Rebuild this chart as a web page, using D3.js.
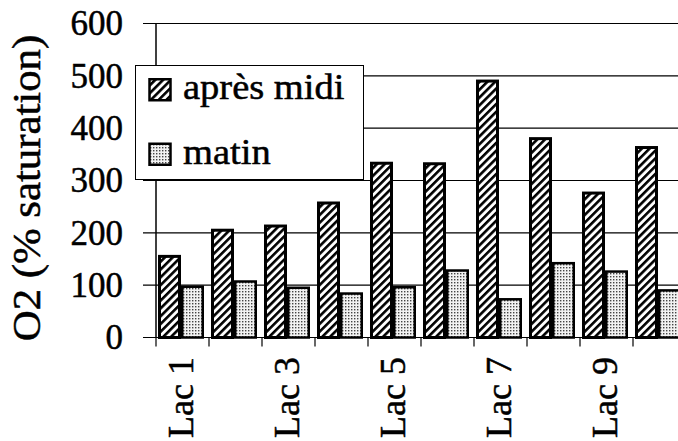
<!DOCTYPE html>
<html>
<head>
<meta charset="utf-8">
<style>
  body { margin: 0; background: #fff; }
  svg { display: block; }
</style>
</head>
<body>
<div id="chart"></div>
<script src="https://cdn.jsdelivr.net/npm/d3@7"></script>
<script>
// data
const lakes = ["Lac 1", "Lac 2", "Lac 3", "Lac 4", "Lac 5", "Lac 6", "Lac 7", "Lac 8", "Lac 9", "Lac 10"]
const apresMidi = [155, 205, 213, 257, 333, 332, 490, 380, 276, 363]
const matin = [97, 107, 95, 84, 96, 128, 73, 142, 126, 90]
const series = ["après midi", "matin"]
const yTicks = [0, 100, 200, 300, 400, 500, 600]

const W = 678, H = 441
const FONT = "'Liberation Serif', 'Times New Roman', Tinos"

const svg = d3.select("#chart").append("svg")
  .attr("width", W)
  .attr("height", H)
  .style("font-family", FONT)

// patterns
const defs = svg.append("defs")
const hatch = defs.append("pattern")
  .attr("id", "hatch")
  .attr("patternUnits", "userSpaceOnUse")
  .attr("width", 5.5).attr("height", 5.5)
  .attr("patternTransform", "rotate(45)")
hatch.append("rect").attr("width", 5.5).attr("height", 5.5).attr("fill", "#fff")
hatch.append("rect").attr("width", 2.6).attr("height", 5.5).attr("fill", "#000")

const dots = defs.append("pattern")
  .attr("id", "dots")
  .attr("patternUnits", "userSpaceOnUse")
  .attr("width", 3).attr("height", 3)
dots.append("rect").attr("width", 3).attr("height", 3).attr("fill", "#f2f2f2")
dots.append("rect").attr("width", 1.4).attr("height", 1.4).attr("fill", "#444")

const fills = { "après midi": "url(#hatch)", "matin": "url(#dots)" }
const strokeW = { "après midi": 3, "matin": 2.5 }

// scales
const x = d3.scaleBand()
  .domain(lakes)
  .range([156, 686])

const x1 = d3.scaleBand()
  .domain(series)
  .range([2, 48])

const y = d3.scaleLinear()
  .domain([0, 600])
  .range([337.5, 23.5])

// text helper: slightly heavier glyphs, like the scan
function serifText(sel, size) {
  sel.attr("font-size", size)
    .style("font-family", FONT)
    .attr("fill", "#000")
    .attr("stroke", "#000")
    .attr("stroke-width", 0.5)
}

// gridlines + y ticks
svg.append("g")
  .selectAll("line")
  .data(yTicks)
  .join("line")
  .attr("x1", 143)
  .attr("x2", W)
  .attr("y1", d => y(d))
  .attr("y2", d => y(d))
  .attr("stroke", "#000")
  .attr("stroke-width", 1.2)

svg.append("g")
  .selectAll("text")
  .data(yTicks)
  .join("text")
  .attr("x", 123)
  .attr("y", d => y(d))
  .attr("text-anchor", "end")
  .attr("dy", "0.34em")
  .call(serifText, 35)
  .text(d => d)

// y axis line
svg.append("line")
  .attr("x1", 156).attr("x2", 156)
  .attr("y1", y(600)).attr("y2", y(0))
  .attr("stroke", "#000")
  .attr("stroke-width", 1.5)

// x boundary ticks
svg.append("g")
  .selectAll("line")
  .data(lakes)
  .join("line")
  .attr("x1", d => x(d))
  .attr("x2", d => x(d))
  .attr("y1", y(0))
  .attr("y2", y(0) + 9)
  .attr("stroke", "#000")
  .attr("stroke-width", 1.2)

// bars
const rows = lakes.map((l, i) => ({ lake: l, values: [
  { key: "après midi", v: apresMidi[i] },
  { key: "matin", v: matin[i] }
]}))

svg.append("g")
  .selectAll("g")
  .data(rows)
  .join("g")
  .attr("transform", d => `translate(${x(d.lake)},0)`)
  .selectAll("rect")
  .data(d => d.values)
  .join("rect")
  .attr("x", d => x1(d.key) + strokeW[d.key] / 2)
  .attr("width", d => x1.bandwidth() - strokeW[d.key])
  .attr("y", d => y(d.v))
  .attr("height", d => y(0) - y(d.v))
  .attr("fill", d => fills[d.key])
  .attr("stroke", "#000")
  .attr("stroke-width", d => strokeW[d.key])

// x labels, every other lake
svg.append("g")
  .selectAll("text")
  .data(lakes.filter((d, i) => i % 2 === 0))
  .join("text")
  .attr("transform", d => `translate(${x(d) + x.bandwidth() / 2 + 10},357) rotate(-90)`)
  .attr("text-anchor", "end")
  .call(serifText, 36)
  .text(d => d)

// y title
svg.append("text")
  .attr("transform", "translate(40,188) rotate(-90) scale(1.07,1)")
  .attr("text-anchor", "middle")
  .call(serifText, 40)
  .text("O2 (% saturation)")

// legend
const legend = svg.append("g")
legend.append("rect")
  .attr("x", 135.5).attr("y", 65.5)
  .attr("width", 228).attr("height", 114)
  .attr("fill", "#fff")
  .attr("stroke", "#000")
  .attr("stroke-width", 1)

const legRow = d3.scaleBand()
  .domain(series)
  .range([58, 187])

legend.selectAll(".sw")
  .data(series)
  .join("rect")
  .attr("class", "sw")
  .attr("x", 149.5)
  .attr("y", d => legRow(d) + legRow.bandwidth() / 2 - 11)
  .attr("width", 21)
  .attr("height", 21)
  .attr("fill", d => fills[d])
  .attr("stroke", "#000")
  .attr("stroke-width", 2.5)

legend.selectAll(".lt")
  .data(series)
  .join("text")
  .attr("class", "lt")
  .attr("transform", d => `translate(183,${legRow(d) + legRow.bandwidth() / 2 + 9}) scale(1.07,1)`)
  .call(serifText, 36)
  .text(d => d)
</script>
</body>
</html>
